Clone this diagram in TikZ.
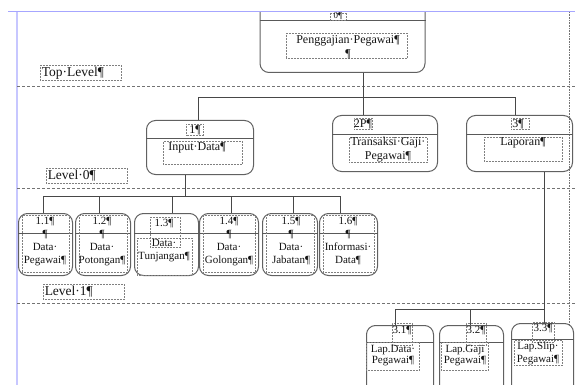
\documentclass[tikz,border=0pt]{standalone}
\usepackage{fontspec}
\setmainfont{Liberation Serif}
\begin{document}
\begin{tikzpicture}[x=1pt,y=-1pt,
  procbox/.style={draw=black!62, line width=1pt, rounded corners=9pt, inner sep=0pt},
  conn/.style={draw=black!72, line width=0.8pt},
  divline/.style={draw=black!65, line width=0.8pt},
  lvl/.style={draw=black!55, line width=0.9pt, dash pattern=on 3pt off 2pt},
  dotbox/.style={draw=black!50, densely dotted, line width=0.5pt, inner sep=0pt},
  bigtxt/.style={font=\fontsize{12}{14}\selectfont, align=center, inner sep=0pt, text=black!92},
  smtxt/.style={font=\fontsize{11}{13}\selectfont, align=center, inner sep=0pt, text=black!92},
  lvtxt/.style={draw=black!50, densely dotted, line width=0.5pt, font=\fontsize{13.5}{15}\selectfont,
    text width=78pt, align=left, inner sep=1.5pt, minimum height=15pt, text=black!92}]
\useasboundingbox (0,0) rectangle (575,385);
\clip (0,0) rectangle (575,385);

% page margin lines
\draw[blue!35, line width=1pt] (8,12) -- (575,12);
\draw[blue!22, line width=1.2pt] (17,12) -- (17,385);
\draw[black!55, densely dotted, line width=0.6pt] (569,12) -- (569,325);

% level separators
\draw[lvl] (17,86) -- (575,86);
\draw[lvl] (17,188) -- (575,188);
\draw[lvl] (17,303) -- (575,303);

% level labels
\node[lvtxt, anchor=north west] (toplevel) at (40,65) {Top·Level¶};
\node[lvtxt, anchor=north west] (level0) at (46,168) {Level·0¶};
\node[lvtxt, anchor=north west] (level1) at (43,284) {Level·1¶};

% ---------- top node ----------
\begin{scope}
\clip (0,12.6) rectangle (575,385);
\node[procbox, minimum width=165pt, minimum height=90pt, anchor=south] (n0) at (342.5,73) {};
\end{scope}
\draw[divline] (n0.west |- 0,20) -- (n0.east |- 0,20);
\node[dotbox, minimum width=16pt, minimum height=7pt] (n0idb) at (338,16.5) {};
\node[bigtxt, font=\fontsize{9}{10}\selectfont] (n0id) at (338,16.5) {0¶};
\node[dotbox, minimum width=121pt, minimum height=25pt, anchor=north west] (n0in) at (286,33) {};
\node[bigtxt, anchor=north] (n0t) at (348,35) {Penggajian·Pegawai¶\\¶};

% ---------- level 0 nodes ----------
\node[procbox, minimum width=107pt, minimum height=54pt, anchor=north west] (n1) at (146,120) {};
\draw[divline] (n1.west |- 0,138) -- (n1.east |- 0,138);
\node[dotbox, minimum width=17pt, minimum height=11pt] (n1idb) at (195,129.5) {};
\node[bigtxt] (n1id) at (195,130) {1¶};
\node[dotbox, minimum width=79pt, minimum height=23pt, anchor=north west] (n1in) at (163,141) {};
\node[bigtxt] (n1t) at (197,148) {Input·Data¶};

\node[procbox, minimum width=105pt, minimum height=56pt, anchor=north west] (n2) at (332,115) {};
\draw[divline] (n2.west |- 0,134) -- (n2.east |- 0,134);
\node[dotbox, minimum width=18pt, minimum height=11pt] (n2idb) at (363,124) {};
\node[bigtxt] (n2id) at (363,124.5) {2P¶};
\node[dotbox, minimum width=78pt, minimum height=25pt, anchor=north west] (n2in) at (349,137) {};
\node[bigtxt] (n2t) at (388,150) {Transaksi·Gaji·\\Pegawai¶};

\node[procbox, minimum width=106pt, minimum height=56pt, anchor=north west] (n3) at (466,115) {};
\draw[divline] (n3.west |- 0,134) -- (n3.east |- 0,134);
\node[dotbox, minimum width=18pt, minimum height=11pt] (n3idb) at (520,124) {};
\node[bigtxt] (n3id) at (518,124.5) {3¶};
\node[dotbox, minimum width=78pt, minimum height=24pt, anchor=north west] (n3in) at (484,137) {};
\node[bigtxt] (n3t) at (523,143) {Laporan¶};

% connectors top -> level 0
\coordinate (j0) at (363,97);
\coordinate (j0L) at (198,97);
\coordinate (j0R) at (515,97);
\draw[conn] (j0 |- n0.south) -- (j0 |- n2.north);
\draw[conn] (j0L |- n1.north) -- (j0L) -- (j0R) -- (j0R |- n3.north);

% ---------- level 1 nodes ----------
\foreach \nm/\xa/\xb in {n11/18/72, n12/75/130, n13/134/198, n14/199/258, n15/262/317, n16/319/377}{
  \node[procbox, minimum width={\xb-\xa}, minimum height=62pt, anchor=north west] (\nm) at (\xa,213) {};
  \draw[divline] (\nm.west |- 0,233) -- (\nm.east |- 0,233);
}
\foreach \nm/\xa/\xb in {n11/22/69, n12/79/127, n14/203/255, n15/266/314, n16/323/374}{
  \node[dotbox, minimum width={\xb-\xa}, minimum height=57pt, anchor=north west] (\nm in) at (\xa,215) {};
}
\node[dotbox, minimum width=30pt, minimum height=30pt, anchor=north west] (n13idb) at (150,217) {};
\node[dotbox, minimum width=55pt, minimum height=37pt, anchor=north west] (n13in) at (137,238) {};

\node[smtxt] (n11t) at (45,241.5) {1.1¶\\¶\\Data·\\Pegawai¶};
\node[smtxt] (n12t) at (102,241.5) {1.2¶\\¶\\Data·\\Potongan¶};
\node[smtxt] (n13id) at (164,224) {1.3¶};
\node[smtxt] (n13t) at (164,250.5) {Data·\\Tunjangan¶};
\node[smtxt] (n14t) at (229,241.5) {1.4¶\\¶\\Data·\\Golongan¶};
\node[smtxt] (n15t) at (291,241.5) {1.5¶\\¶\\Data·\\Jabatan¶};
\node[smtxt] (n16t) at (348,241.5) {1.6¶\\¶\\Informasi·\\Data¶};

% connectors level 0 -> level 1
\coordinate (j1) at (185,196);
\coordinate (j1L) at (43,196);
\coordinate (j1R) at (340,196);
\draw[conn] (j1 |- n1.south) -- (j1);
\draw[conn] (j1L) -- (j1R);
\foreach \nm/\xx in {n11/43, n12/99, n13/172, n14/231, n15/293, n16/340}{
  \coordinate (d\nm) at (\xx,196);
  \draw[conn] (d\nm) -- (d\nm |- \nm.north);
}

% ---------- level 2 nodes ----------
\node[procbox, minimum width=67pt, minimum height=80pt, anchor=north west] (n31) at (366,325) {};
\draw[divline] (n31.west |- 0,342) -- (n31.east |- 0,342);
\node[procbox, minimum width=64pt, minimum height=80pt, anchor=north west] (n32) at (439,325) {};
\draw[divline] (n32.west |- 0,342) -- (n32.east |- 0,342);
\node[procbox, minimum width=62pt, minimum height=80pt, anchor=north west] (n33) at (511,323) {};
\draw[divline] (n33.west |- 0,339) -- (n33.east |- 0,339);

\node[dotbox, minimum width=20pt, minimum height=22pt, anchor=north west] (n31idb) at (392,323) {};
\node[dotbox, minimum width=20pt, minimum height=22pt, anchor=north west] (n32idb) at (466,323) {};
\node[dotbox, minimum width=22pt, minimum height=20pt, anchor=north west] (n33idb) at (532,322) {};
\node[dotbox, minimum width=53pt, minimum height=28pt, anchor=north west] (n31in) at (366,342) {};
\node[dotbox, minimum width=47pt, minimum height=28pt, anchor=north west] (n32in) at (441,342) {};
\node[dotbox, minimum width=48pt, minimum height=25pt, anchor=north west] (n33in) at (514,340) {};

\node[smtxt] (n31id) at (402,331) {3.1¶};
\node[smtxt, font=\fontsize{11}{11.5}\selectfont] (n31t) at (393,355.5) {Lap.Data·\\Pegawai¶};
\node[smtxt] (n32id) at (476,331) {3.2¶};
\node[smtxt, font=\fontsize{11}{11.5}\selectfont] (n32t) at (465,355.5) {Lap.Gaji\\Pegawai¶};
\node[smtxt] (n33id) at (543,329) {3.3¶};
\node[smtxt, font=\fontsize{11}{12.5}\selectfont] (n33t) at (538,353.5) {Lap.Slip·\\Pegawai¶};

% connectors level 0 -> level 2
\coordinate (j2) at (544,309);
\coordinate (j2L) at (395,309);
\coordinate (j2M) at (470,309);
\draw[conn] (j2 |- n3.south) -- (j2 |- n33.north);
\draw[conn] (j2L |- n31.north) -- (j2L) -- (j2);
\draw[conn] (j2M) -- (j2M |- n32.north);
\end{tikzpicture}
\end{document}
